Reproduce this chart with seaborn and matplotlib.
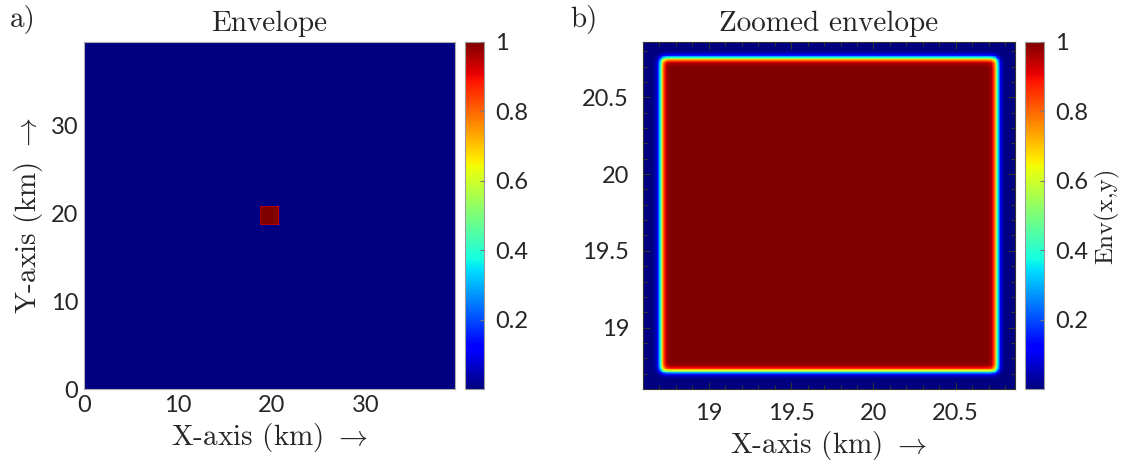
"""Envelope of a square source on a 2D grid: full domain and zoomed view
"""

import matplotlib
matplotlib.use("Agg")
import matplotlib.pyplot as plt
import seaborn as sns
import pandas as pd
import numpy as np

sns.set_style("white")
plt.rcParams['font.family'] = ['Lato', 'DejaVu Sans']
plt.rcParams['mathtext.fontset'] = 'cm'

# Domain and envelope parameters (km)
domain = [0.0, 39.47]
zoom_window = [18.6, 20.86]
square_center = [19.73, 19.735]
square_half = 1.02
edge_width = 0.022

full_ticks = [0, 10, 20, 30]
zoom_ticks = [19, 19.5, 20, 20.5]
zoom_labels = ["19", "19.5", "20", "20.5"]
minor_ticks = [18.7, 18.8, 18.9, 19.1, 19.2, 19.3, 19.4, 19.6, 19.7, 19.8,
               19.9, 20.1, 20.2, 20.3, 20.4, 20.6, 20.7, 20.8]
cbar_ticks = [0.2, 0.4, 0.6, 0.8, 1]
cbar_labels = ["0.2", "0.4", "0.6", "0.8", "1"]

serif = 'cmr10'
tick_col = '#262626'
tick_fs = 17
label_fs = 21


def envelope(x, y):
    # smooth square : product of two tanh steps along each direction
    cx, cy = square_center
    ex = 0.5 * (np.tanh((x - (cx - square_half)) / edge_width)
                - np.tanh((x - (cx + square_half)) / edge_width))
    ey = 0.5 * (np.tanh((y - (cy - square_half)) / edge_width)
                - np.tanh((y - (cy + square_half)) / edge_width))
    return ex * ey


def grid(lims, n):
    edges = np.linspace(lims[0], lims[1], n + 1)
    centers = 0.5 * (edges[1:] + edges[:-1])
    X, Y = np.meshgrid(centers, centers)
    data = pd.DataFrame(envelope(X, Y), index=centers, columns=centers)
    return data


def to_index(v, lims, n):
    # km -> heatmap cell coordinate
    return (np.asarray(v) - lims[0]) / (lims[1] - lims[0]) * n


fig = plt.figure(figsize=(11.23, 4.68), dpi=100)
ax1 = fig.add_axes([84 / 1123, 1 - 389 / 468, 371 / 1123, 347 / 468])
cax1 = fig.add_axes([465 / 1123, 1 - 389 / 468, 19 / 1123, 347 / 468])
ax2 = fig.add_axes([643 / 1123, 1 - 389 / 468, 372 / 1123, 347 / 468])
cax2 = fig.add_axes([1025 / 1123, 1 - 389 / 468, 19 / 1123, 347 / 468])

N1, N2 = 420, 460
panels = [(ax1, cax1, domain, N1, "Envelope"),
          (ax2, cax2, zoom_window, N2, "Zoomed envelope")]

for ax, cax, lims, n, title in panels:
    data = grid(lims, n)
    sns.heatmap(data, ax=ax, cbar_ax=cax, cmap="jet", vmin=0, vmax=1,
                xticklabels=False, yticklabels=False, rasterized=True)
    ax.invert_yaxis()
    ax.set_title(title, fontfamily=serif, fontsize=label_fs, pad=8)
    cb = ax.collections[0].colorbar
    cb.set_ticks(cbar_ticks)
    cb.set_ticklabels(cbar_labels)
    cax.set_axisbelow(False)
    cax.tick_params(labelsize=tick_fs, labelcolor=tick_col, right=True,
                    length=3, direction='in', width=0.8, color='#777777',
                    pad=8)
    cb.outline.set_visible(True)
    cb.outline.set_edgecolor('#9a9a9a')
    cb.outline.set_linewidth(0.8)

# left panel : plain ticks
ax1.set_xticks(to_index(full_ticks, domain, N1))
ax1.set_xticklabels([str(t) for t in full_ticks])
ax1.set_yticks(to_index(full_ticks, domain, N1))
ax1.set_yticklabels([str(t) for t in full_ticks], rotation=0)
ax1.tick_params(labelsize=tick_fs, colors=tick_col, length=0, pad=4)
for s in ax1.spines.values():
    s.set_visible(True)
    s.set_color('#b0b0b0')
    s.set_linewidth(0.8)

# right panel : inward ticks on all sides, with minor ticks
ax2.set_axisbelow(False)
ax2.set_xticks(to_index(zoom_ticks, zoom_window, N2))
ax2.set_xticklabels(zoom_labels)
ax2.set_yticks(to_index(zoom_ticks, zoom_window, N2))
ax2.set_yticklabels(zoom_labels, rotation=0)
ax2.set_xticks(to_index(minor_ticks, zoom_window, N2), minor=True)
ax2.set_yticks(to_index(minor_ticks, zoom_window, N2), minor=True)
ax2.tick_params(which='both', direction='in', top=True, right=True,
                bottom=True, left=True, color='#333333', width=0.8)
ax2.tick_params(which='major', labelsize=tick_fs, labelcolor=tick_col,
                length=5, pad=10)
ax2.tick_params(which='minor', length=3)
for s in ax2.spines.values():
    s.set_visible(True)
    s.set_color('#333333')
    s.set_linewidth(0.8)

ax1.set_xlabel(r'X-axis (km) $\rightarrow$', fontfamily=serif,
               fontsize=label_fs, labelpad=4)
ax1.set_ylabel(r'Y-axis (km) $\rightarrow$', fontfamily=serif,
               fontsize=label_fs, labelpad=4)
ax2.set_xlabel(r'X-axis (km) $\rightarrow$', fontfamily=serif,
               fontsize=label_fs, labelpad=4)
cax2.set_ylabel('Env(x,y)', fontfamily=serif, fontsize=18, labelpad=4)

fig.text(10 / 1123, 1 - 20 / 468, 'a)', fontfamily=serif, fontsize=label_fs,
         va='center', ha='left')
fig.text(570 / 1123, 1 - 20 / 468, 'b)', fontfamily=serif, fontsize=label_fs,
         va='center', ha='left')

fig.savefig("out.png", dpi=100)
